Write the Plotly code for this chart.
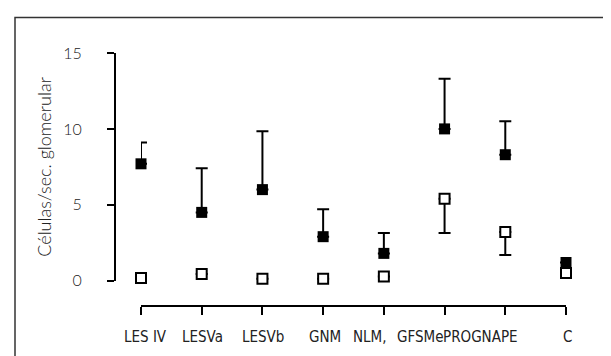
import plotly.graph_objects as go

# ---- data ----
categories = ["LES IV", "LESVa", "LESVb", "GNM", "NLM,", "GFSMe", "PROGNAPE", "C"]
filled_mean = [7.7, 4.5, 6.0, 2.9, 1.8, 10.0, 8.3, 1.2]
filled_upper = [9.1, 7.4, 9.85, 4.7, 3.15, 13.3, 10.5, 1.2]
open_mean = [0.18, 0.44, 0.13, 0.13, 0.27, 5.4, 3.2, 0.5]
open_lower = [0.18, 0.44, 0.13, 0.13, 0.27, 3.15, 1.7, 0.5]
y_ticks = [0, 5, 10, 15]

# label offsets (px) to mimic the original label placement
label_shift = [4, 1, 1, 2, -14, -25, -25, 1]

xs = list(range(len(categories)))
err_up = [u - m for u, m in zip(filled_upper, filled_mean)]
err_down = [m - l for m, l in zip(open_mean, open_lower)]
zeros = [0] * len(categories)

W, H = 611, 356
L, R, T, B = 107, 53, 45, 58
pw, ph = W - L - R, H - T - B

def px_x(p):
    return (p - L) / pw

def px_y(p):
    return (H - B - p) / ph

fig = go.Figure()

fig.add_trace(go.Scatter(
    x=xs, y=filled_mean, mode="markers", cliponaxis=False,
    marker=dict(symbol="square", size=11, color="black", line=dict(width=0)),
    error_y=dict(type="data", symmetric=False, array=err_up, arrayminus=zeros,
                 color="black", thickness=2, width=6),
    showlegend=False,
))
fig.add_trace(go.Scatter(
    x=xs, y=open_mean, mode="markers", cliponaxis=False,
    marker=dict(symbol="square", size=10, color="white", line=dict(width=2, color="black")),
    error_y=dict(type="data", symmetric=False, array=zeros, arrayminus=err_down,
                 color="black", thickness=2, width=6),
    showlegend=False,
))

tick_font = dict(family="Lato, Open Sans, sans-serif", size=16, color="#222", weight=300)
lab_font = dict(family="DejaVu Sans Condensed, sans-serif", size=15, color="#222")

for i, (c, s) in enumerate(zip(categories, label_shift)):
    fig.add_annotation(x=i, xref="x", y=0, yref="paper", yshift=-31, xshift=s,
                       text=c, showarrow=False, xanchor="center", yanchor="middle",
                       font=lab_font)

fig.add_shape(type="rect", xref="paper", yref="paper",
              x0=px_x(7), x1=px_x(603), y0=px_y(400), y1=px_y(9.5),
              line=dict(color="#333", width=1.5), fillcolor="rgba(0,0,0,0)", layer="below")

fig.update_layout(
    width=W, height=H,
    margin=dict(l=L, r=R, t=T, b=B),
    paper_bgcolor="white", plot_bgcolor="white",
    xaxis=dict(domain=[px_x(133), 1], range=[0, 7], anchor="free", position=0,
               showline=True, linecolor="black", linewidth=2,
               ticks="outside", ticklen=8, tickwidth=2, tickcolor="black",
               tickvals=xs, showticklabels=False, showgrid=False, zeroline=False),
    yaxis=dict(domain=[px_y(272.7), 1], range=[0, 15], anchor="free", position=0,
               showline=True, linecolor="black", linewidth=2,
               ticks="outside", ticklen=7, tickwidth=2, tickcolor="black",
               tickvals=y_ticks, ticktext=[str(v) for v in y_ticks],
               tickfont=tick_font, ticklabelstandoff=22,
               showgrid=False, zeroline=False,
               title=dict(text="Células/sec. glomerular", standoff=6,
                          font=dict(family="Lato, Open Sans, sans-serif", size=18,
                                    color="#222", weight=300))),
)

fig.write_html("out.html")
